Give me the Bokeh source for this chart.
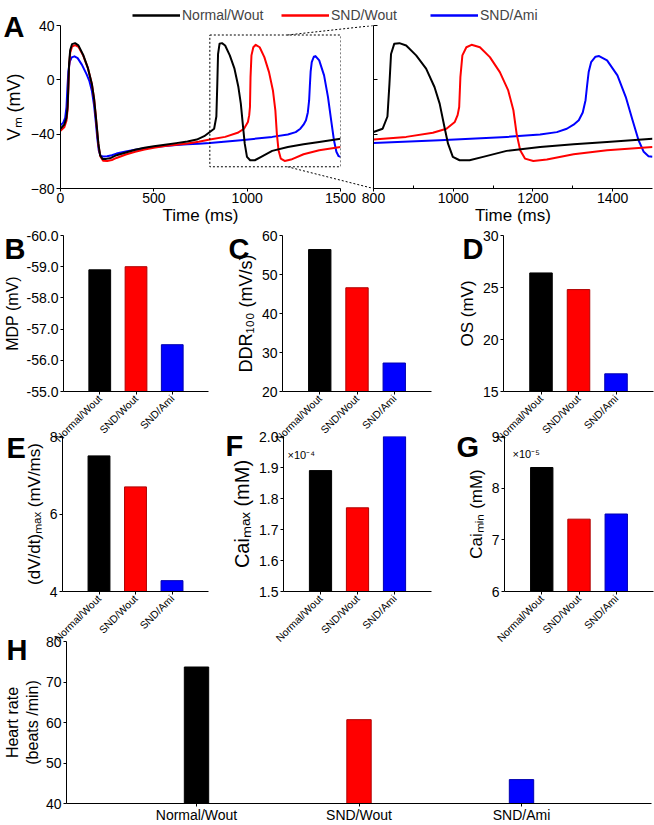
import math
from bokeh.plotting import figure
from bokeh.models import (Range1d, FixedTicker, NumeralTickFormatter, Label,
                          Legend, LegendItem, ColumnDataSource, AllLabels)
from bokeh.layouts import column
from bokeh.embed import file_html
from bokeh.resources import INLINE

# ---------------------------------------------------------------- data
GROUPS = ["Normal/Wout", "SND/Wout", "SND/Ami"]

T_NORMAL = [0, 20, 32, 38, 42, 46, 52, 62, 78, 96, 121, 146, 168, 180, 188, 195, 203, 212, 225, 245,
            270, 300, 350, 400, 450, 500, 560, 620, 680, 730, 770, 800, 823, 835, 840, 844, 852, 865, 882, 907,
            932, 953, 966, 978, 987, 999, 1016, 1041, 1075, 1134, 1218, 1302, 1386, 1500]
V_NORMAL = [-36, -33, -28, -20, -5, 12, 22, 26.3, 27, 25.4, 18.5, 9, -3, -14, -25, -35, -47, -55.5, -58.2, -58.2,
            -57.5, -55.5, -53.5, -51.5, -50, -48.9, -47.8, -46.6, -45.4, -44, -41.5, -38.4, -36, -27, -3, 19, 26.5, 27, 25.3, 18,
            8.2, -5.3, -17.5, -34.7, -47, -56.7, -59.2, -59.2, -56.7, -52.3, -49.4, -47.4, -45.7, -43.3]

T_SND = [0, 20, 32, 38, 42, 46, 52, 62, 78, 96, 121, 146, 168, 180, 188, 195, 204, 214, 228, 250,
         275, 300, 350, 400, 450, 500, 560, 620, 680, 740, 800, 882, 949, 983, 1004, 1011, 1015, 1018, 1023, 1033,
         1046, 1067, 1092, 1117, 1138, 1151, 1159, 1168, 1180, 1201, 1235, 1302, 1386, 1500]
V_SND = [-37.5, -35, -30, -22, -7, 10, 20, 24.5, 25.5, 24.3, 18, 9, -3, -14, -25, -36, -49, -56.5, -59.5, -59.7,
         -59, -57.5, -55, -53, -51.3, -50, -48.8, -47.8, -46.8, -45.6, -44, -42, -39, -36, -31, -26, -20, 2, 18, 24,
         25.8, 24, 16.7, 5.7, -7.8, -22.4, -39.6, -51.8, -58, -59.7, -58.7, -54.8, -51.8, -49.4]

T_AMI = [0, 15, 25, 32, 37, 42, 50, 60, 75, 92, 115, 140, 155, 168, 180, 189, 197, 205, 215, 228,
         250, 275, 300, 350, 400, 450, 500, 560, 620, 680, 740, 800, 966, 1134, 1218, 1260, 1285, 1302, 1315, 1325,
         1332, 1336, 1340, 1346, 1357, 1366, 1386, 1412, 1433, 1450, 1465, 1478, 1490, 1500]
V_AMI = [-33.5, -31.5, -28, -20, -6, 6, 13.5, 16.5, 17.3, 16, 11, 4, -1, -8, -19, -31, -43, -52, -56, -56.5,
         -56.3, -55.5, -54.3, -52.8, -51.5, -50.3, -49.5, -48.7, -48, -47.4, -47, -46.5, -44.5, -42, -40.3, -38.5, -36, -33, -29.8, -24,
         -15, -4, 6, 13, 17, 17.5, 14.3, 3.3, -12.7, -29.8, -44.5, -53, -56.2, -56.7]

MDP = [-58.9, -59.0, -56.5]          # mV
DDR100 = [56.4, 46.6, 27.3]          # mV/s
OS = [26.4, 24.8, 16.7]              # mV
DVDT_MAX = [7.5, 6.7, 4.28]          # mV/ms
CAI_MAX = [1.89, 1.77, 2.00]         # x10^-4 mM
CAI_MIN = [8.4, 7.4, 7.5]            # x10^-5 mM
HEART_RATE = [73.7, 60.7, 45.9]      # beats/min

TICKS_A_V = [-80, -40, 0, 40]
TICKS_A_T = [0, 500, 1000, 1500]
TICKS_A2_T = [800, 1000, 1200, 1400]
MINOR_A2_T = [900, 1100, 1300]
A2_T_RANGE = [800, 1500]
ZOOM_T = [800, 1500]
ZOOM_V = [-64, 33]
CONNECT_T = 1216
TICKS_MDP = [-60, -59, -58, -57, -56, -55]
TICKS_DDR = [20, 30, 40, 50, 60]
TICKS_OS = [15, 20, 25, 30]
TICKS_DVDT = [4, 6, 8]
TICKS_CAIMAX = [1.5, 1.6, 1.7, 1.8, 1.9, 2.0]
TICKS_CAIMIN = [6, 7, 8, 9]
TICKS_HR = [40, 50, 60, 70, 80]
PANEL_LETTERS = ["A", "B", "C", "D", "E", "F", "G", "H"]

# ---------------------------------------------------------------- style / layout
S = 1.0
W = 654
H_TOTAL = 825
FONT = "Liberation Sans"
LINE_COLORS = ["black", "#ff0000", "#0000ff"]
FILL = ["#000000", "#ff0000", "#0000ff"]
EDGE = ["#000000", "#b00000", "#0000b0"]
# letter positions (left, baseline) in page pixels
LETTER_POS = [(3, 26), (4, 248), (228, 248), (462, 248), (6, 447), (225, 445), (456, 446), (6, 649)]

panels = []


def c(v):
    return int(round(v * S))


def make(fx0, fx1, fy0, fy1, cy0, cy1, xr, yr, axes=True):
    top = c(cy0)
    height = c(cy1) - top
    kw = {}
    if not axes:
        kw = dict(x_axis_location=None, y_axis_location=None)
    p = figure(width=W, height=height, x_range=xr, y_range=yr,
               output_backend="svg", toolbar_location=None,
               min_border_left=c(fx0), min_border_right=W - c(fx1),
               min_border_top=c(fy0) - top, min_border_bottom=c(cy1) - c(fy1), **kw)
    p.frame_align = False
    p.background_fill_alpha = 0
    p.border_fill_alpha = 0
    p.outline_line_color = None
    p.grid.visible = False
    panels.append((p, top, height))
    return p


def style(ax, label=None, lsize="17px", tsize="14px", tick_out=4, tick_in=0,
          lstand=3, tstand=2):
    ax.axis_label = label
    ax.axis_label_text_font = FONT
    ax.axis_label_text_font_size = lsize
    ax.axis_label_text_font_style = "normal"
    ax.axis_label_text_color = "black"
    ax.axis_label_standoff = lstand
    ax.major_label_text_font = FONT
    ax.major_label_text_font_size = tsize
    ax.major_label_text_color = "black"
    ax.major_label_standoff = tstand
    ax.major_label_policy = AllLabels()
    ax.axis_line_color = "black"
    ax.axis_line_width = 1
    ax.major_tick_line_color = "black"
    ax.major_tick_out = tick_out
    ax.major_tick_in = tick_in
    ax.minor_tick_line_color = None


def note(p, text, lx, base, fx0, fy1):
    p.add_layout(Label(x=c(lx) - c(fx0), y=c(fy1) - c(base), x_units="screen", y_units="screen",
                       text=text, text_font=FONT, text_font_size="11px",
                       text_baseline="alphabetic", text_color="black"))


# ---------------------------------------------------------------- panel letters (full-page overlay)
lt = make(0, W, 0, H_TOTAL, 0, H_TOTAL, Range1d(0, 1), Range1d(0, 1), axes=False)
for txt, (lx, base) in zip(PANEL_LETTERS, LETTER_POS):
    lt.add_layout(Label(x=c(lx), y=c(H_TOTAL) - c(base), x_units="screen", y_units="screen",
                        text=txt, text_font=FONT, text_font_size="29px", text_font_style="bold",
                        text_baseline="alphabetic", text_color="black"))

# ---------------------------------------------------------------- legend strip
leg = make(132, 600, 7, 23, 0, 30, Range1d(0, 1), Range1d(0, 1), axes=False)
items = []
for name, col in zip(GROUPS, LINE_COLORS):
    r = leg.line(x=[-5, -4], y=[-5, -4], line_color=col, line_width=2.5)
    items.append(LegendItem(label=name, renderers=[r]))
legend = Legend(items=items, location="top_left", orientation="horizontal",
                padding=0, margin=0, spacing=0, label_standoff=2, glyph_width=48,
                glyph_height=16, label_height=16, label_width=99,
                label_text_font=FONT, label_text_font_size="14px",
                border_line_color=None, background_fill_alpha=0)
leg.add_layout(legend)

# ---------------------------------------------------------------- panel A (full trace)
traces = [(T_AMI, V_AMI, LINE_COLORS[2]), (T_SND, V_SND, LINE_COLORS[1]), (T_NORMAL, V_NORMAL, LINE_COLORS[0])]

a1 = make(60, 340, 25, 188, 0, 232, Range1d(TICKS_A_T[0], TICKS_A_T[-1]),
          Range1d(TICKS_A_V[0], TICKS_A_V[-1]))
for t, v, col in traces:
    a1.line(t, v, line_color=col, line_width=2, line_join="round")
a1.quad(left=[ZOOM_T[0]], right=[ZOOM_T[1]], bottom=[ZOOM_V[0]], top=[ZOOM_V[1]],
        fill_color=None, line_color="black", line_dash="2 2", line_width=1)
a1.xaxis.ticker = FixedTicker(ticks=TICKS_A_T)
a1.yaxis.ticker = FixedTicker(ticks=TICKS_A_V)
style(a1.xaxis[0], "Time (ms)", lsize="17px", tick_out=3, lstand=0, tstand=1)
style(a1.yaxis[0], "Vₘ (mV)", lsize="18px", tick_out=4, lstand=4)

# overlay for the dashed connector lines (same scale as A1, wider frame)
ov_end = TICKS_A_T[-1] * (c(373) - c(60)) / (c(340) - c(60))
ov = make(60, 373, 25, 188, 0, 232, Range1d(TICKS_A_T[0], ov_end),
          Range1d(TICKS_A_V[0], TICKS_A_V[-1]), axes=False)
ov.segment(x0=[CONNECT_T, CONNECT_T], y0=[ZOOM_V[1], ZOOM_V[0]],
           x1=[ov_end, ov_end], y1=[TICKS_A_V[-1], TICKS_A_V[0]],
           line_color="black", line_dash="2 2", line_width=1)

# ---------------------------------------------------------------- panel A (zoom)
a2 = make(373, 652, 25, 188, 0, 232, Range1d(A2_T_RANGE[0], A2_T_RANGE[1]),
          Range1d(TICKS_A_V[0], TICKS_A_V[-1]))
for t, v, col in traces:
    a2.line(t, v, line_color=col, line_width=2, line_join="round")
a2.xaxis.ticker = FixedTicker(ticks=TICKS_A2_T, minor_ticks=MINOR_A2_T)
a2.yaxis.ticker = FixedTicker(ticks=TICKS_A_V)
style(a2.xaxis[0], "Time (ms)", lsize="17px", tick_out=3, lstand=0, tstand=1)
a2.xaxis.minor_tick_line_color = "black"
a2.xaxis.minor_tick_in = 3
a2.xaxis.minor_tick_out = 0
style(a2.yaxis[0], None, tick_out=0, tick_in=4)
a2.yaxis.major_label_text_alpha = 0


# ---------------------------------------------------------------- bar panels
def bar_panel(vals, ticks, fx0, fx1, fy0, fy1, cy0, cy1, label, lsize="17px",
              fmt=None, inverted=False, tsize="14px"):
    if inverted:
        yr = Range1d(ticks[-1], ticks[0])
    else:
        yr = Range1d(ticks[0], ticks[-1])
    n = len(GROUPS)
    p = make(fx0, fx1, fy0, fy1, cy0, cy1, Range1d(0, n + 1), yr)
    xs = list(range(1, n + 1))
    src = ColumnDataSource(dict(x=xs, top=vals, fill=FILL, edge=EDGE))
    p.vbar(x="x", top="top", bottom=yr.start, width=0.6, fill_color="fill",
           line_color="edge", line_width=1, source=src)
    p.xaxis.ticker = FixedTicker(ticks=xs)
    p.xaxis.major_label_overrides = {x: g for x, g in zip(xs, GROUPS)}
    style(p.xaxis[0], None, tsize="10.5px", tick_out=3, tstand=2)
    p.xaxis.major_label_orientation = math.pi / 4
    p.yaxis.ticker = FixedTicker(ticks=ticks)
    if fmt:
        p.yaxis.formatter = NumeralTickFormatter(format=fmt)
    style(p.yaxis[0], label, lsize=lsize, tsize=tsize, tick_out=3, lstand=3)
    return p


pb = bar_panel(MDP, TICKS_MDP, 62, 208, 235, 391, 215, 455, "MDP (mV)", lsize="16px",
               fmt="0.0", inverted=True, tsize="14px")
pc = bar_panel(DDR100, TICKS_DDR, 282, 431, 235, 391, 215, 455, "DDR₁₀₀ (mV/s)", lsize="18px")
pd = bar_panel(OS, TICKS_OS, 503, 653, 235, 391, 215, 455, "OS (mV)", lsize="17px")

pe = bar_panel(DVDT_MAX, TICKS_DVDT, 62, 208, 436, 591, 418, 655, "(dV/dt)ₘₐₓ (mV/ms)", lsize="17px")
pf = bar_panel(CAI_MAX, TICKS_CAIMAX, 283, 431, 436, 591, 418, 655, "Caiₘₐₓ (mM)", lsize="20px", fmt="0.0")
note(pf, "×10⁻⁴", 287, 454, 283, 591)
pg = bar_panel(CAI_MIN, TICKS_CAIMIN, 504, 653, 436, 591, 418, 655, "Caiₘᵢₙ (mM)", lsize="17px")
note(pg, "×10⁻⁵", 512, 453, 504, 591)

# ---------------------------------------------------------------- panel H
n = len(GROUPS)
ph = make(64, 651, 641, 805, 622, H_TOTAL, Range1d(0.2, n + 0.8),
          Range1d(TICKS_HR[0], TICKS_HR[-1]))
xs = list(range(1, n + 1))
src_h = ColumnDataSource(dict(x=xs, top=HEART_RATE, fill=FILL, edge=EDGE))
ph.vbar(x="x", top="top", bottom=TICKS_HR[0], width=0.15, fill_color="fill",
        line_color="edge", line_width=1, source=src_h)
ph.xaxis.ticker = FixedTicker(ticks=xs)
ph.xaxis.major_label_overrides = {x: g for x, g in zip(xs, GROUPS)}
style(ph.xaxis[0], None, tsize="14px", tick_out=3, tstand=0)
ph.yaxis.ticker = FixedTicker(ticks=TICKS_HR)
style(ph.yaxis[0], "Heart rate\n(beats /min)", lsize="16px", tsize="14px", tick_out=3, lstand=2)

# ---------------------------------------------------------------- assemble (overlapping transparent canvases)
kids = []
prev_bottom = 0
for p, top, h in panels:
    p.margin = (top - prev_bottom, 0, 0, 0)
    prev_bottom = top + h
    kids.append(p)

layout = column(*kids, spacing=0)
open("out.html", "w").write(file_html(layout, INLINE))
